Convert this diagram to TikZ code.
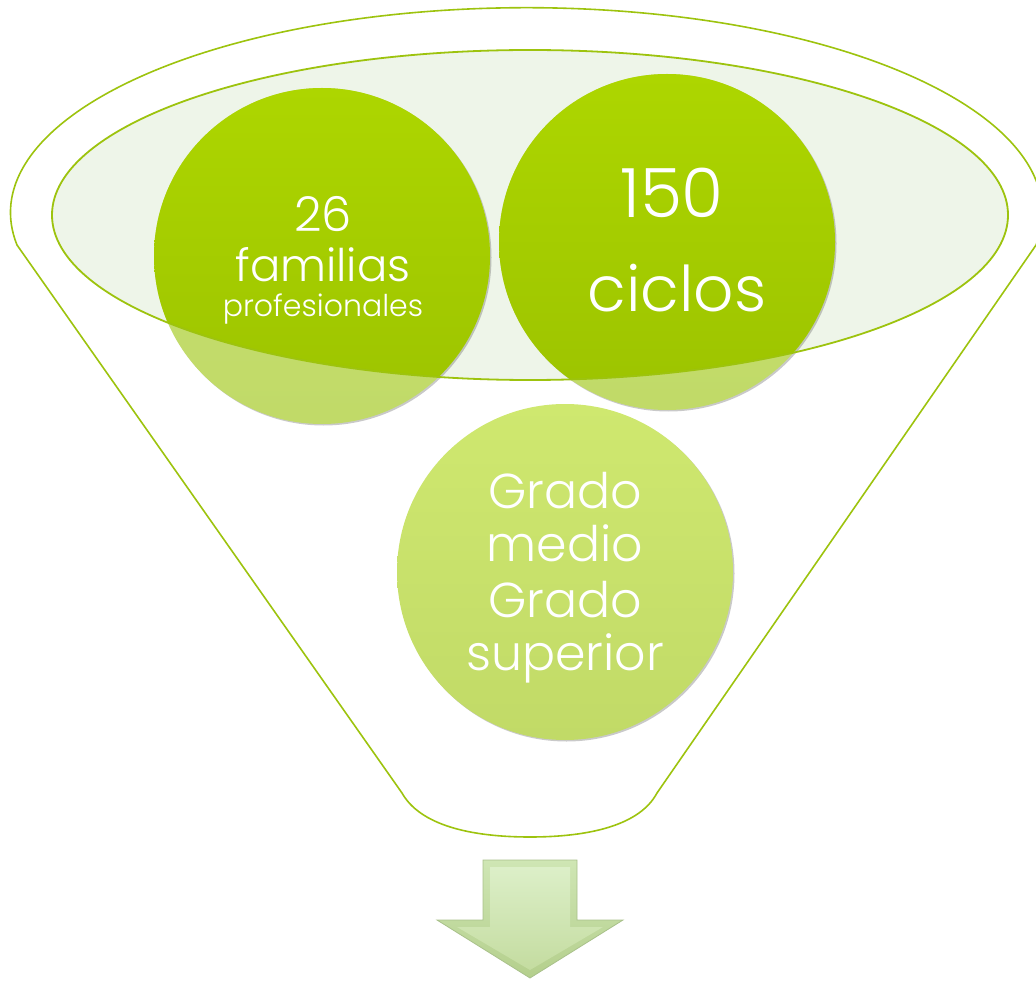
\documentclass[tikz,border=0pt]{standalone}
\usepackage{fontspec}
\setmainfont{Poppins}[UprightFont=* Light]
\usetikzlibrary{shadows}
\definecolor{fline}{HTML}{9DC30E}
\definecolor{ellfill}{HTML}{EEF5E9}
\definecolor{darktop}{HTML}{ADD600}
\definecolor{darkbot}{HTML}{9CC300}
\definecolor{lighttop}{HTML}{C6E070}
\definecolor{lightbot}{HTML}{C1DA68}
\definecolor{paletop}{HTML}{CFE86F}
\definecolor{palebot}{HTML}{C1DA67}
\definecolor{arrowtop}{HTML}{CFE6B4}
\definecolor{arrowbot}{HTML}{B4CF8C}
\definecolor{arrowin}{HTML}{DCEFC8}
\definecolor{arrowinbot}{HTML}{C4DCA0}
\definecolor{arrowline}{HTML}{A9C18B}
\begin{document}
\begin{tikzpicture}[x=1pt,y=-1pt,
  funnel/.style={draw=fline, line width=1.6pt},
  bubble/.style={circle, minimum size=336pt, inner sep=0pt, draw=none,
    drop shadow={shadow xshift=1.5pt, shadow yshift=-1.5pt, opacity=0.3, fill=black!70}},
  lbl/.style={text=white, anchor=base, inner sep=0pt}]
\useasboundingbox (0,0) rectangle (1036,981);
% outer funnel outline
\draw[funnel] (17,245) arc[start angle=170.93, end angle=369.07, x radius=516, y radius=205]
  -- (657,793) .. controls (640,825) and (590,837) .. (530,837)
  .. controls (470,837) and (420,825) .. (402,793) -- cycle;
% inner ellipse fill
\fill[ellfill] (530,215) ellipse[x radius=478, y radius=165];
% circles (outer, lighter parts)
\node[bubble, top color=lighttop, bottom color=lightbot] (c1) at (322,256) {};
\node[bubble, top color=lighttop, bottom color=lightbot] (c2) at (667,242) {};
\node[bubble, top color=paletop, bottom color=palebot] (c3) at (565,572) {};
% saturated parts inside the ellipse
\begin{scope}
  \clip (530,215) ellipse[x radius=478, y radius=165];
  \shade[top color=darktop, bottom color=darkbot] (c1.center) circle[radius=168];
  \shade[top color=darktop, bottom color=darkbot] (c2.center) circle[radius=168];
\end{scope}
% inner ellipse border
\draw[draw=fline, line width=1.8pt] (530,215) ellipse[x radius=478, y radius=165];
% texts
\node[lbl, font=\fontsize{48}{50}\selectfont] (t1a) at (323,232) {26};
\node[lbl, font=\fontsize{45}{50}\selectfont] (t1b) at (323,282) {familias};
\node[lbl, font=\fontsize{30}{32}\selectfont] (t1c) at (323,317) {profesionales};
\node[lbl, font=\fontsize{68}{70}\selectfont] (t2a) at (672,218) {150};
\node[lbl, font=\fontsize{63}{70}\selectfont] (t2b) at (677,312) {ciclos};
\node[lbl, font=\fontsize{49}{52}\selectfont] (t3a) at (565,508) {Grado};
\node[lbl, font=\fontsize{49}{52}\selectfont] (t3b) at (565,561) {medio};
\node[lbl, font=\fontsize{49}{52}\selectfont] (t3c) at (565,617) {Grado};
\node[lbl, font=\fontsize{49}{52}\selectfont] (t3d) at (565,670) {superior};
% down arrow
\shade[top color=arrowtop, bottom color=arrowbot, draw=arrowline, line width=0.8pt]
  (483,860) -- (577,860) -- (577,920) -- (623,920) -- (530,978) -- (437,920) -- (483,920) -- cycle;
\shade[top color=arrowin, bottom color=arrowinbot]
  (490,867) -- (570,867) -- (570,927) -- (603,927) -- (530,970) -- (457,927) -- (490,927) -- cycle;
\end{tikzpicture}
\end{document}
